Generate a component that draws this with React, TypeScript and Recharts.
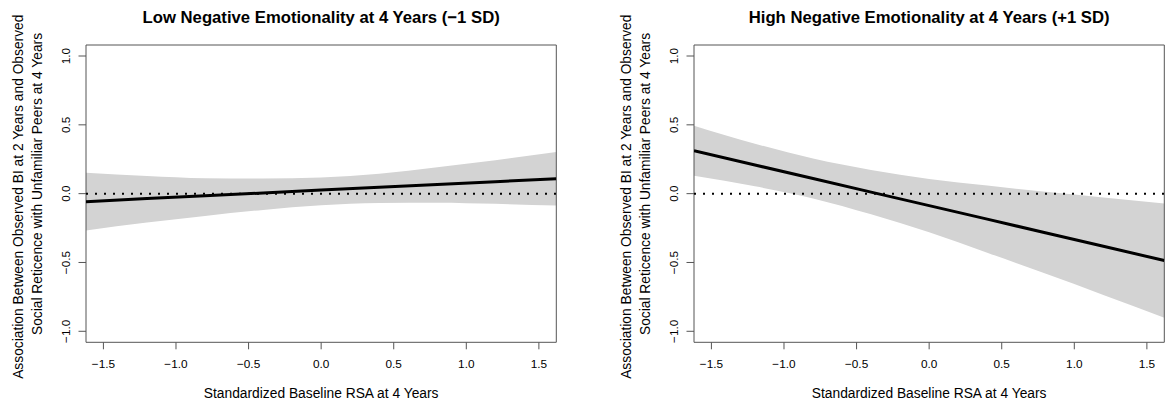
import React from "react";
import {
  ComposedChart,
  Area,
  Line,
  XAxis,
  YAxis,
  ReferenceLine,
  ReferenceArea,
} from "recharts";

// ---------- data ----------
const rsaValues = [-1.62, -1.2, -0.8, -0.4, 0, 0.4, 0.8, 1.2, 1.62];

const lowFit = [-0.058, -0.036, -0.016, 0.005, 0.026, 0.046, 0.067, 0.087, 0.109];
const lowUpper = [0.151, 0.128, 0.112, 0.11, 0.118, 0.145, 0.192, 0.243, 0.302];
const lowLower = [-0.267, -0.21, -0.162, -0.118, -0.085, -0.068, -0.066, -0.074, -0.086];

const highFit = [0.312, 0.208, 0.11, 0.011, -0.087, -0.185, -0.284, -0.382, -0.486];
const highUpper = [0.494, 0.363, 0.255, 0.172, 0.107, 0.059, 0.013, -0.028, -0.071];
const highLower = [0.13, 0.053, -0.035, -0.15, -0.281, -0.429, -0.581, -0.736, -0.901];

const xTicks = [-1.5, -1.0, -0.5, 0.0, 0.5, 1.0, 1.5];
const yTicks = [-1.0, -0.5, 0.0, 0.5, 1.0];
const xDomain = [-1.62, 1.62];
const yDomain = [-1.08, 1.08];

const lowTitle = "Low Negative Emotionality at 4 Years (\u22121 SD)";
const highTitle = "High Negative Emotionality at 4 Years (+1 SD)";
const xTitle = "Standardized Baseline RSA at 4 Years";
const yTitleLine1 = "Association Between Observed BI at 2 Years and Observed";
const yTitleLine2 = "Social Reticence with Unfamiliar Peers at 4 Years";

// ---------- layout ----------
const FONT = '"Liberation Sans", Arial, Helvetica, sans-serif';
const PW = 600;
const PH = 405;
const PLOT_L = 86;
const PLOT_R = 556.3;
const PLOT_T = 45;
const PLOT_B = 342.3;
const Y_AXIS_W = 40;
const X_AXIS_H = 30;
const AXIS_GRAY = "#555555";

const fmt = (v: number) => {
  const s = v.toFixed(1);
  return s.startsWith("-") ? "\u2212" + s.slice(1) : s;
};

const buildRows = (fit: number[], lo: number[], hi: number[]) =>
  rsaValues.map((x, i) => ({ x, fit: fit[i], band: [lo[i], hi[i]] }));

const XTick = (props: any) => {
  const { x, payload } = props;
  return (
    <text
      x={x}
      y={368.3}
      textAnchor="middle"
      fontFamily={FONT}
      fontSize={11.8}
      fill="#000"
    >
      {fmt(payload.value)}
    </text>
  );
};

const YTick = (props: any) => {
  const { y, payload } = props;
  const bx = 70;
  return (
    <text
      x={bx}
      y={y}
      transform={`rotate(-90 ${bx} ${y})`}
      textAnchor="middle"
      fontFamily={FONT}
      fontSize={11.8}
      fill="#000"
    >
      {fmt(payload.value)}
    </text>
  );
};

const Panel = ({
  title,
  fit,
  lo,
  hi,
}: {
  title: string;
  fit: number[];
  lo: number[];
  hi: number[];
}) => {
  const rows = buildRows(fit, lo, hi);
  const cx = (PLOT_L + PLOT_R) / 2;
  return (
    <ComposedChart
      width={PW}
      height={PH}
      data={rows}
      margin={{
        top: PLOT_T,
        right: PW - PLOT_R,
        bottom: PH - PLOT_B - X_AXIS_H,
        left: PLOT_L - Y_AXIS_W,
      }}
    >
      <XAxis
        dataKey="x"
        type="number"
        domain={xDomain}
        allowDataOverflow
        ticks={xTicks}
        interval={0}
        height={X_AXIS_H}
        axisLine={false}
        tickSize={7}
        tickLine={{ stroke: AXIS_GRAY, strokeWidth: 1 }}
        tick={<XTick />}
      />
      <YAxis
        type="number"
        domain={yDomain}
        allowDataOverflow
        ticks={yTicks}
        interval={0}
        width={Y_AXIS_W}
        axisLine={false}
        tickSize={7.5}
        tickLine={{ stroke: AXIS_GRAY, strokeWidth: 1 }}
        tick={<YTick />}
      />
      <Area
        dataKey="band"
        type="monotone"
        stroke="none"
        fill="#d3d3d3"
        fillOpacity={1}
        isAnimationActive={false}
        activeDot={false}
      />
      <Line
        dataKey="fit"
        type="linear"
        stroke="#000"
        strokeWidth={3}
        dot={false}
        activeDot={false}
        isAnimationActive={false}
      />
      <ReferenceLine
        y={0}
        stroke="#000"
        strokeWidth={2}
        strokeDasharray="2 7"
        ifOverflow="hidden"
      />
      <ReferenceArea
        x1={xDomain[0]}
        x2={xDomain[1]}
        y1={yDomain[0]}
        y2={yDomain[1]}
        fill="none"
        stroke={AXIS_GRAY}
        strokeWidth={1}
        fillOpacity={0}
      />
      <text
        x={cx}
        y={23}
        textAnchor="middle"
        fontFamily={FONT}
        fontSize={16.7}
        fontWeight="bold"
        fill="#000"
      >
        {title}
      </text>
      <text
        x={cx}
        y={398}
        textAnchor="middle"
        fontFamily={FONT}
        fontSize={13.8}
        fill="#000"
      >
        {xTitle}
      </text>
      <text
        x={23.2}
        y={196.7}
        transform={`rotate(-90 23.2 196.7)`}
        textAnchor="middle"
        fontFamily={FONT}
        fontSize={13.8}
        fill="#000"
      >
        {yTitleLine1}
      </text>
      <text
        x={41.7}
        y={184}
        transform={`rotate(-90 41.7 184)`}
        textAnchor="middle"
        fontFamily={FONT}
        fontSize={13.8}
        fill="#000"
      >
        {yTitleLine2}
      </text>
    </ComposedChart>
  );
};

export default function App() {
  return (
    <div
      style={{
        position: "absolute",
        left: 0,
        top: 0,
        width: 1165,
        height: 405,
        overflow: "hidden",
        background: "#fff",
      }}
    >
      <div style={{ position: "absolute", left: 0, top: 0 }}>
        <Panel title={lowTitle} fit={lowFit} lo={lowLower} hi={lowUpper} />
      </div>
      <div style={{ position: "absolute", left: 608.3, top: 0 }}>
        <Panel title={highTitle} fit={highFit} lo={highLower} hi={highUpper} />
      </div>
    </div>
  );
}
